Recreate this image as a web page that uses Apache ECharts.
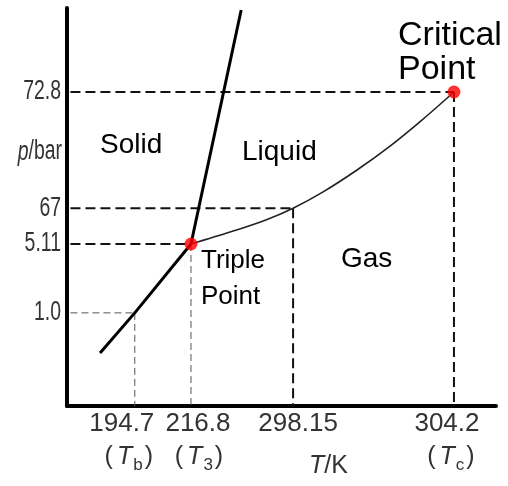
<!DOCTYPE html>
<html>
<head>
<meta charset="utf-8">
<script src="https://cdn.jsdelivr.net/npm/echarts@6/dist/echarts.min.js"></script>
<style>
html, body { margin: 0; padding: 0; background: #fff; }
#chart { width: 508px; height: 486px; }
</style>
</head>
<body>
<div id="chart"></div>
<script>
// schematic phase diagram: positions are on a 0-100 scale, labels carry the real values
var tempLabels = ['194.7', '216.8', '298.15', '304.2'];
var tempSubs = ['b', '3', '', 'c'];
var tempPos = [15.8, 28.9, 52.7, 90.2];

var presLabels = ['1.0', '5.11', '67', '72.8'];
var presPos = [23.4, 40.7, 49.7, 78.9];

// phase boundaries
var sublimation = [[7.7, 13.3], [15.8, 23.4], [28.9, 40.7]];
var melting = [[28.9, 40.7], [40.6, 99.5]];
var vaporization = [[28.9, 40.7], [38.0, 43.7], [46.2, 46.7], [52.7, 49.7], [59.7, 53.8],
    [67.6, 59.3], [75.3, 65.3], [82.8, 71.9], [90.2, 78.9]];

var SANS = '"Liberation Sans", Arial, sans-serif';

var THIN = { color: '#555', width: 1, type: [7, 4] };
var THICK = { color: '#111', width: 2, type: [10, 5] };

// dashed guide lines from each marked point to both axes
var guideSeries = [];
tempPos.forEach(function (x, i) {
    guideSeries.push({
        type: 'line',
        data: [[0.8, presPos[i]], [x, presPos[i]]],
        symbol: 'none', silent: true, z: 1,
        lineStyle: i === 0 ? THIN : THICK
    });
    guideSeries.push({
        type: 'line',
        data: [[x, presPos[i]], [x, 0]],
        symbol: 'none', silent: true, z: 1,
        lineStyle: i < 2 ? THIN : THICK
    });
});

var myChart = echarts.init(document.getElementById('chart'));
myChart.setOption({
    animation: false,
    grid: { left: 67, right: 12, top: 8, bottom: 80 },
    xAxis: {
        type: 'value',
        min: 0,
        max: 100,
        splitLine: { show: false },
        axisTick: { show: false },
        axisLabel: { show: false },
        axisLine: { lineStyle: { color: '#000', width: 4 } }
    },
    yAxis: {
        type: 'value',
        min: 0,
        max: 100,
        splitLine: { show: false },
        axisTick: { show: false },
        axisLabel: { show: false },
        axisLine: { lineStyle: { color: '#000', width: 4 } }
    },
    series: guideSeries.concat([
        {
            type: 'line',
            data: sublimation,
            symbol: 'none',
            z: 3,
            lineStyle: { color: '#000', width: 3 }
        },
        {
            type: 'line',
            data: melting,
            symbol: 'none',
            z: 3,
            lineStyle: { color: '#000', width: 3 }
        },
        {
            type: 'line',
            data: vaporization,
            symbol: 'none',
            smooth: 0.3,
            z: 3,
            lineStyle: { color: '#222', width: 1.6 }
        },
        {
            type: 'scatter',
            data: [[tempPos[1], presPos[1]], [tempPos[3], presPos[3]]],
            symbolSize: 13,
            z: 5,
            itemStyle: { color: '#ff0000' }
        }
    ])
});

// tick labels placed through the axis scales (the labels crowd each other,
// so they are drawn as graphic text with small nudges)
var shift1 = [-13, 7, 5, -7];
var shift2 = [-6, 8, 0, -3];
var graphics = [];
tempLabels.forEach(function (txt, i) {
    var px = myChart.convertToPixel({ gridIndex: 0 }, [tempPos[i], 0])[0];
    graphics.push({
        type: 'text', x: px + shift1[i], y: 424,
        style: { text: txt, font: '26px ' + SANS, fill: '#333', textAlign: 'center', textVerticalAlign: 'middle' }
    });
    if (tempSubs[i]) {
        graphics.push({
            type: 'text', x: px + shift2[i], y: 457,
            style: {
                text: '{p|(}{t|T}{s|' + tempSubs[i] + '}{p|)}',
                textAlign: 'center', textVerticalAlign: 'middle',
                rich: {
                    p: { fontFamily: SANS, fontSize: 25, fill: '#333', lineHeight: 32, padding: [0, 2, 0, 2] },
                    t: { fontFamily: SANS, fontSize: 25, fontStyle: 'italic', fill: '#333', lineHeight: 32, padding: [0, 1, 0, 2] },
                    s: { fontFamily: SANS, fontSize: 17, fill: '#333', lineHeight: 34, verticalAlign: 'bottom' }
                }
            }
        });
    }
});

// pressure labels: tall narrow lettering
var narrowScale = 0.72;
presLabels.forEach(function (txt, i) {
    var py = myChart.convertToPixel({ gridIndex: 0 }, [0, presPos[i]])[1];
    graphics.push({
        type: 'text', x: 61, y: py, scaleX: narrowScale,
        style: { text: txt, font: '27px ' + SANS, fill: '#333', textAlign: 'right', textVerticalAlign: 'middle' }
    });
});

graphics.push(
    { type: 'text', x: 62, y: 152, scaleX: narrowScale, style: { text: '{i|p}/bar', textAlign: 'right', textVerticalAlign: 'middle',
        rich: { i: { fontFamily: SANS, fontSize: 27, fontStyle: 'italic', fill: '#333' } },
        font: '27px ' + SANS, fill: '#333' } },
    { type: 'text', x: 309, y: 466, style: { text: '{i|T}/K', textAlign: 'left', textVerticalAlign: 'middle',
        rich: { i: { fontFamily: SANS, fontSize: 25, fontStyle: 'italic', fill: '#333' } },
        font: '25px ' + SANS, fill: '#333' } },
    { type: 'text', x: 100, y: 145, style: { text: 'Solid', font: '28px ' + SANS, fill: '#000', textVerticalAlign: 'middle' } },
    { type: 'text', x: 242, y: 152, style: { text: 'Liquid', font: '28px ' + SANS, fill: '#000', textVerticalAlign: 'middle' } },
    { type: 'text', x: 341, y: 259, style: { text: 'Gas', font: '28px ' + SANS, fill: '#000', textVerticalAlign: 'middle' } },
    { type: 'text', x: 201, y: 243, style: { text: 'Triple\nPoint', font: '26px ' + SANS, lineHeight: 36, fill: '#000', textVerticalAlign: 'top' } },
    { type: 'text', x: 398, y: 19, style: { text: 'Critical\nPoint', font: '34px ' + SANS, lineHeight: 34, fill: '#000', textVerticalAlign: 'top' } }
);
myChart.setOption({ graphic: graphics });
</script>
</body>
</html>
